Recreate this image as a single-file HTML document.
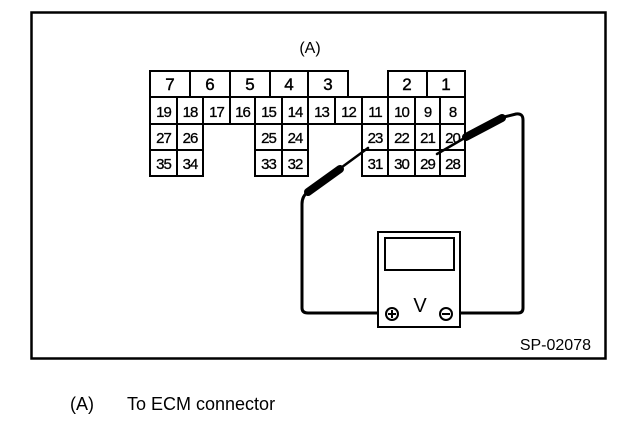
<!DOCTYPE html>
<html><head><style>
body{margin:0;background:#fff;width:624px;height:428px;overflow:hidden}
</style></head><body>
<svg width="624" height="428" xmlns="http://www.w3.org/2000/svg" style="position:absolute;left:0;top:0">
<rect x="31.5" y="12.5" width="574" height="346" fill="none" stroke="#000" stroke-width="2.5"/>
<g font-family="Liberation Sans, sans-serif" fill="#000">
<text x="310" y="53" font-size="16" text-anchor="middle">(A)</text>
</g>
<g fill="none" stroke="#000" stroke-width="2">
<rect x="150" y="71" width="198" height="26"/>
<line x1="190" y1="71" x2="190" y2="97"/><line x1="230" y1="71" x2="230" y2="97"/>
<line x1="270" y1="71" x2="270" y2="97"/><line x1="308" y1="71" x2="308" y2="97"/>
<rect x="388" y="71" width="77" height="26"/>
<line x1="427" y1="71" x2="427" y2="97"/>
<rect x="150" y="97" width="315" height="27"/>
<g>
<line x1="177" y1="97" x2="177" y2="124"/><line x1="203" y1="97" x2="203" y2="124"/>
<line x1="230" y1="97" x2="230" y2="124"/><line x1="255" y1="97" x2="255" y2="124"/>
<line x1="282" y1="97" x2="282" y2="124"/><line x1="308" y1="97" x2="308" y2="124"/>
<line x1="335" y1="97" x2="335" y2="124"/><line x1="362" y1="97" x2="362" y2="124"/>
<line x1="388" y1="97" x2="388" y2="124"/><line x1="415" y1="97" x2="415" y2="124"/>
<line x1="440" y1="97" x2="440" y2="124"/>
</g>
<rect x="150" y="124" width="53" height="52"/><line x1="150" y1="150" x2="203" y2="150"/><line x1="177" y1="124" x2="177" y2="176"/>
<rect x="255" y="124" width="53" height="52"/><line x1="255" y1="150" x2="308" y2="150"/><line x1="282" y1="124" x2="282" y2="176"/>
<rect x="362" y="124" width="103" height="52"/><line x1="362" y1="150" x2="465" y2="150"/>
<line x1="388" y1="124" x2="388" y2="176"/><line x1="415" y1="124" x2="415" y2="176"/><line x1="440" y1="124" x2="440" y2="176"/>
</g>
<g font-family="Liberation Sans, sans-serif" font-size="17" text-anchor="middle" stroke="#000" stroke-width="0.4">
<text x="170" y="90">7</text><text x="210" y="90">6</text><text x="250" y="90">5</text><text x="289" y="90">4</text><text x="328" y="90">3</text>
<text x="407" y="90">2</text><text x="446" y="90">1</text>
</g>
<g font-family="Liberation Sans, sans-serif" font-size="15" text-anchor="middle" letter-spacing="-1" stroke="#000" stroke-width="0.3">
<text x="163.5" y="117">19</text><text x="190" y="117">18</text><text x="216.5" y="117">17</text><text x="242.5" y="117">16</text>
<text x="268.5" y="117">15</text><text x="295" y="117">14</text><text x="321.5" y="117">13</text><text x="348.5" y="117">12</text>
<text x="375" y="117">11</text><text x="401.5" y="117">10</text><text x="427.5" y="117">9</text><text x="452.5" y="117">8</text>
<text x="163.5" y="143">27</text><text x="190" y="143">26</text><text x="268.5" y="143">25</text><text x="295" y="143">24</text>
<text x="375" y="143">23</text><text x="401.5" y="143">22</text><text x="427.5" y="143">21</text><text x="452.5" y="143">20</text>
<text x="163.5" y="169">35</text><text x="190" y="169">34</text><text x="268.5" y="169">33</text><text x="295" y="169">32</text>
<text x="375" y="169">31</text><text x="401.5" y="169">30</text><text x="427.5" y="169">29</text><text x="452.5" y="169">28</text>
</g>
<g fill="none" stroke="#000" stroke-linecap="round">
<path d="M308 192 Q302 196 302 204 L302 308 Q302 313 308 313 L386 313" stroke-width="3"/>
<path d="M504 117 L516 114 Q523 113 523 120 L523 308 Q523 313 518 313 L452 313" stroke-width="3"/>
<line x1="338" y1="170" x2="368" y2="148" stroke-width="2.5"/>
<line x1="308" y1="192" x2="340" y2="169" stroke-width="8"/>
<line x1="437" y1="154" x2="468" y2="136" stroke-width="2.5"/>
<line x1="466" y1="137" x2="502" y2="118" stroke-width="8"/>
</g>
<rect x="378" y="232" width="82" height="95" fill="#fff" stroke="#000" stroke-width="2"/>
<rect x="385" y="238" width="69" height="32" fill="none" stroke="#000" stroke-width="2"/>
<circle cx="392" cy="314" r="6" fill="#fff" stroke="#000" stroke-width="2"/>
<line x1="388" y1="314" x2="396" y2="314" stroke="#000" stroke-width="2"/><line x1="392" y1="310" x2="392" y2="318" stroke="#000" stroke-width="2"/>
<circle cx="446" cy="314" r="6" fill="#fff" stroke="#000" stroke-width="2"/>
<line x1="442" y1="314" x2="450" y2="314" stroke="#000" stroke-width="2"/>
<g font-family="Liberation Sans, sans-serif" fill="#000">
<text x="420" y="312" font-size="20" text-anchor="middle">V</text>
<text x="591" y="350" font-size="16" text-anchor="end">SP-02078</text>
<text x="70" y="410" font-size="18">(A)</text>
<text x="127" y="410" font-size="18">To ECM connector</text>
</g>
</svg>
</body></html>
